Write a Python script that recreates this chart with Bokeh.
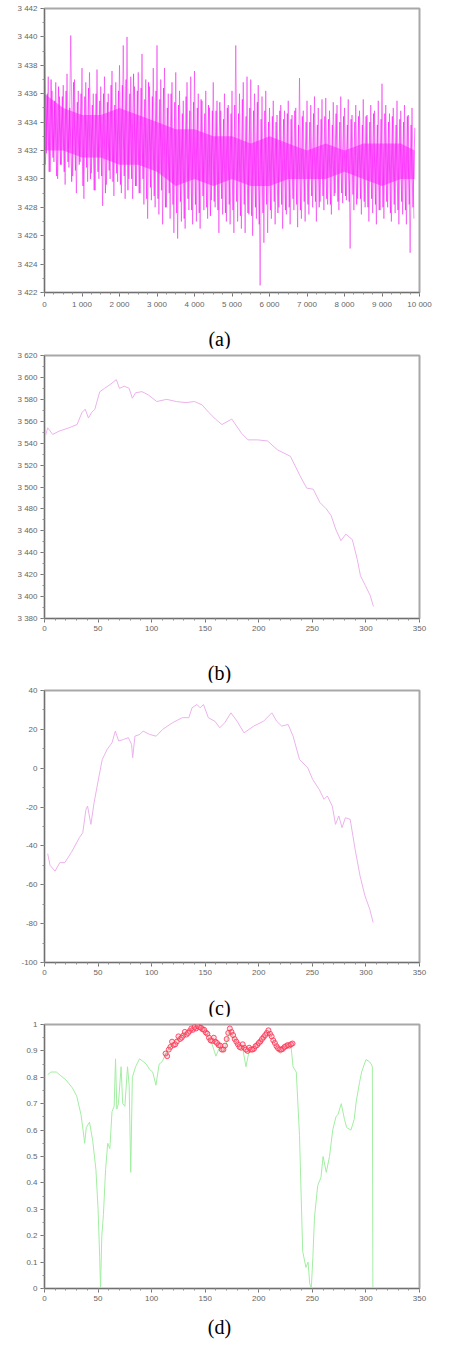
from bokeh.plotting import figure
from bokeh.models import FixedTicker, Div, Range1d
from bokeh.layouts import column
from bokeh.embed import file_html
from bokeh.resources import INLINE

# ---------------- panel (a) : voltage over 10 000 samples (mV) ----------------
a_x = list(range(0, 9900, 50))
a_y = [
    3440.5, 3431.8, 3437.2, 3430.5, 3436.2, 3431.2, 3436.8, 3430.0, 3435.8, 3431.0,
    3436.6, 3429.6, 3437.4, 3430.8, 3440.1, 3430.2, 3437.0, 3429.0, 3436.2, 3431.2,
    3437.8, 3428.6, 3436.8, 3429.8, 3437.5, 3430.4, 3436.0, 3429.2, 3437.7, 3430.0,
    3436.5, 3428.1, 3437.2, 3429.6, 3436.0, 3430.0, 3437.6, 3428.8, 3436.8, 3429.8,
    3438.0, 3429.0, 3439.4, 3428.6, 3440.0, 3430.0, 3437.2, 3428.6, 3436.5, 3429.5,
    3437.5, 3429.0, 3438.8, 3428.2, 3437.0, 3427.2, 3436.5, 3428.5, 3437.8, 3428.0,
    3439.4, 3427.5, 3437.0, 3426.8, 3437.8, 3428.0, 3436.0, 3427.2, 3436.8, 3426.2,
    3437.5, 3425.8, 3436.2, 3427.0, 3435.5, 3426.5, 3436.8, 3427.8, 3437.2, 3426.8,
    3437.6, 3427.0, 3436.0, 3426.5, 3435.5, 3427.8, 3436.2, 3427.2, 3435.0, 3428.5,
    3436.8, 3428.0, 3435.5, 3426.2, 3434.8, 3427.5, 3436.0, 3427.0, 3435.2, 3426.8,
    3436.2, 3426.2, 3439.4, 3427.0, 3436.0, 3426.5, 3436.8, 3426.2, 3437.2, 3427.5,
    3437.0, 3426.0, 3436.0, 3427.2, 3436.6, 3422.5, 3435.8, 3425.5, 3436.2, 3426.2,
    3435.0, 3427.2, 3435.5, 3426.8, 3434.5, 3428.0, 3435.2, 3426.5, 3434.8, 3427.5,
    3435.5, 3426.8, 3434.5, 3427.8, 3435.0, 3426.6, 3437.1, 3427.2, 3434.8, 3427.0,
    3435.5, 3427.5, 3435.2, 3428.0, 3435.8, 3427.0, 3435.0, 3428.4, 3435.6, 3427.8,
    3435.7, 3428.2, 3434.8, 3427.5, 3435.4, 3429.0, 3435.2, 3427.8, 3435.8, 3428.3,
    3435.0, 3428.5, 3435.6, 3425.1, 3434.5, 3427.8, 3435.2, 3428.6, 3434.8, 3427.5,
    3435.6, 3428.0, 3434.5, 3427.0, 3435.2, 3427.6, 3434.8, 3426.8, 3435.5, 3427.8,
    3436.7, 3427.2, 3435.2, 3428.0, 3434.6, 3427.0, 3435.0, 3427.6, 3435.5, 3426.8,
    3434.8, 3427.5, 3435.2, 3426.8, 3434.5, 3424.8, 3435.0, 3427.2,
]
a_x2 = list(range(25, 9900, 50))
a_y2 = [
    3431.0, 3436.0, 3430.5, 3437.0, 3431.5, 3435.5, 3430.2, 3436.5, 3431.0, 3435.8,
    3430.5, 3436.2, 3431.2, 3435.0, 3429.8, 3436.8, 3430.6, 3435.4, 3431.0, 3436.0,
    3429.5, 3435.8, 3430.8, 3436.4, 3430.0, 3435.2, 3429.2, 3436.0, 3430.5, 3435.5,
    3430.2, 3436.0, 3429.0, 3435.4, 3430.6, 3436.6, 3429.8, 3435.2, 3430.4, 3436.2,
    3429.6, 3436.6, 3430.2, 3437.0, 3429.2, 3436.0, 3430.0, 3437.4, 3429.5, 3436.2,
    3429.0, 3436.4, 3430.0, 3435.6, 3428.6, 3436.8, 3429.4, 3435.8, 3428.8, 3436.2,
    3428.6, 3435.6, 3429.2, 3436.4, 3428.0, 3435.0, 3429.0, 3436.0, 3428.2, 3435.4,
    3427.6, 3435.2, 3428.4, 3434.6, 3427.2, 3435.8, 3428.6, 3434.8, 3427.8, 3435.4,
    3428.2, 3435.0, 3427.6, 3435.6, 3428.8, 3434.6, 3428.0, 3435.2, 3427.4, 3434.8,
    3428.4, 3434.8, 3427.8, 3435.4, 3428.6, 3434.2, 3427.6, 3435.0, 3428.2, 3434.6,
    3427.8, 3435.2, 3428.4, 3434.6, 3427.4, 3435.6, 3428.2, 3434.4, 3427.6, 3435.0,
    3427.4, 3434.8, 3428.0, 3435.4, 3426.8, 3434.2, 3427.6, 3434.8, 3428.2, 3434.0,
    3427.8, 3434.4, 3428.4, 3434.0, 3427.6, 3434.8, 3428.2, 3434.2, 3427.8, 3434.6,
    3428.0, 3434.2, 3428.6, 3434.8, 3428.2, 3433.8, 3427.8, 3434.4, 3428.4, 3434.0,
    3428.2, 3434.0, 3428.8, 3434.6, 3428.4, 3433.8, 3428.0, 3434.2, 3428.8, 3434.4,
    3428.6, 3434.2, 3428.2, 3433.8, 3428.8, 3434.6, 3428.4, 3434.0, 3429.0, 3434.4,
    3428.8, 3433.8, 3428.4, 3434.2, 3428.9, 3434.0, 3428.2, 3434.4, 3428.6, 3433.8,
    3428.4, 3434.4, 3428.0, 3434.0, 3428.6, 3434.6, 3428.2, 3433.8, 3427.8, 3434.2,
    3428.0, 3434.6, 3428.4, 3434.0, 3427.6, 3434.4, 3428.2, 3433.8, 3427.8, 3434.2,
    3428.4, 3434.0, 3427.8, 3434.4, 3428.2, 3433.8, 3428.0, 3433.6,
]
a_core_x = [0, 500, 1000, 1500, 2000, 2500, 3000, 3500, 4000, 4500, 5000,
            5500, 6000, 6500, 7000, 7500, 8000, 8500, 9000, 9500, 9870]
a_core_hi = [3436.0, 3435.0, 3434.5, 3434.5, 3435.0, 3434.5, 3434.0, 3433.5, 3433.5, 3433.0, 3433.0,
             3432.5, 3433.0, 3432.5, 3432.0, 3432.5, 3432.0, 3432.5, 3432.5, 3432.5, 3432.0]
a_core_lo = [3432.0, 3432.0, 3431.5, 3431.5, 3431.0, 3431.0, 3430.5, 3429.5, 3430.0, 3429.5, 3430.0,
             3429.5, 3429.5, 3430.0, 3430.0, 3430.0, 3430.5, 3430.0, 3429.5, 3430.0, 3430.0]
a_xticks = [0, 1000, 2000, 3000, 4000, 5000, 6000, 7000, 8000, 9000, 10000]
a_xlabels = ["0", "1 000", "2 000", "3 000", "4 000", "5 000", "6 000", "7 000", "8 000", "9 000", "10 000"]
a_yticks = [3422, 3424, 3426, 3428, 3430, 3432, 3434, 3436, 3438, 3440, 3442]
a_ylabels = ["3 422", "3 424", "3 426", "3 428", "3 430", "3 432", "3 434", "3 436", "3 438", "3 440", "3 442"]

# ---------------- panel (b) ----------------
b_x = [0, 1, 3, 7.6, 13.7, 22.8, 30.4, 35, 38, 41, 44, 47, 51.6, 56, 62, 67, 70, 74.4, 79, 82,
       85, 91, 97, 104.8, 114, 123, 132, 140, 147, 153.4, 159.5, 165.6, 174.8, 183.9, 190, 199,
       208.2, 217.3, 229.5, 238.6, 244.7, 250.8, 256.9, 263, 267.5, 272, 276.7, 281.2, 287.3,
       291.9, 294.9, 299.5, 304, 307]
b_y = [3556, 3547, 3554, 3548, 3551, 3554, 3557, 3568, 3571, 3563, 3568, 3571, 3587, 3590, 3594,
       3598, 3590, 3592, 3590, 3581, 3586, 3587, 3584, 3578, 3580, 3578, 3577, 3578, 3575, 3568,
       3562, 3557, 3562, 3549, 3543, 3543, 3542, 3534, 3528, 3510, 3499, 3498, 3486, 3480, 3474,
       3461, 3451, 3457, 3452, 3434, 3419, 3410, 3401, 3391]
b_yticks = [3380, 3400, 3420, 3440, 3460, 3480, 3500, 3520, 3540, 3560, 3580, 3600, 3620]
b_ylabels = ["3 380", "3 400", "3 420", "3 440", "3 460", "3 480", "3 500", "3 520", "3 540",
             "3 560", "3 580", "3 600", "3 620"]

# ---------------- panel (c) ----------------
c_x = [3, 5.2, 9.8, 14.3, 18.9, 25, 32.6, 35.7, 38.7, 40.2, 43.3, 46.3, 50.9, 53.9, 58.5, 63,
       66.1, 69.2, 73.7, 78.3, 81.3, 82.3, 84.4, 89, 92, 98.1, 104.2, 110.3, 119.4, 128.6, 134.7,
       137.7, 142.3, 145.3, 148.4, 152.9, 159, 163.6, 168.2, 174, 180, 186.2, 195.4, 204.5, 212.2,
       216.7, 221.3, 227.4, 232, 238, 245.7, 250.3, 256.4, 260.9, 264, 268.6, 271.6, 274.7, 277.7,
       280.8, 285.3, 289.9, 294.5, 299.1, 303.6, 306.7]
c_y = [-44, -50, -53, -48.6, -48.6, -43.4, -35.7, -33.2, -21.2, -19.5, -28.9, -17.7, -4, 4.5,
       9.7, 13.1, 19.1, 14, 14.8, 15.7, 12.2, 5.4, 16.5, 17.4, 19.1, 17.4, 16.5, 20, 23.4, 26, 26,
       31.1, 32.8, 31.1, 32.8, 26, 24.2, 20.8, 23.4, 28.5, 24, 18.2, 21.7, 24.2, 28.5, 24.2, 21.7,
       22.5, 16.5, 4.5, 0.2, -5.8, -10.9, -16, -14.3, -19.5, -28.9, -24.6, -30.6, -25.5, -26.3,
       -41.7, -55.4, -65.7, -72.6, -79.4]
c_yticks = [-100, -80, -60, -40, -20, 0, 20, 40]
c_ylabels = ["-100", "-80", "-60", "-40", "-20", "0", "20", "40"]

# ---------------- panel (d) ----------------
d_x = [3, 6, 11, 20, 26, 30, 34, 36, 37.5, 39, 42, 45, 48, 50, 51.5, 52.3, 53.5, 55, 57, 59, 61,
       63, 65, 66.3, 67.5, 69, 71.5, 73, 75, 77.5, 79, 80.5, 82, 85, 88.7, 92, 95, 98, 101, 104,
       107, 110, 113, 120, 130, 140, 150, 156, 160, 163, 168, 173, 180, 185, 188, 191, 200, 210,
       216, 220, 225, 230, 232, 235, 238, 241, 244, 246, 247.5, 249, 250.5, 252, 255, 258, 260,
       263, 266, 269, 272, 274, 277, 280, 282, 286, 289, 291, 294, 296, 300, 303, 305, 306, 306.5]
d_y = [0.81, 0.82, 0.82, 0.79, 0.76, 0.73, 0.66, 0.60, 0.55, 0.61, 0.63, 0.56, 0.45, 0.30, 0.12,
       0.0, 0.20, 0.28, 0.45, 0.55, 0.53, 0.67, 0.69, 0.87, 0.68, 0.70, 0.84, 0.70, 0.69, 0.84,
       0.77, 0.44, 0.80, 0.84, 0.87, 0.86, 0.85, 0.83, 0.82, 0.77, 0.85, 0.86, 0.89, 0.93, 0.965,
       0.99, 0.97, 0.93, 0.88, 0.91, 0.90, 0.98, 0.92, 0.91, 0.84, 0.90, 0.93, 0.97, 0.92, 0.89,
       0.91, 0.92, 0.84, 0.82, 0.58, 0.14, 0.08, 0.10, 0.02, 0.0, 0.12, 0.27, 0.39, 0.42, 0.50,
       0.44, 0.50, 0.60, 0.65, 0.66, 0.70, 0.64, 0.61, 0.60, 0.64, 0.71, 0.78, 0.82, 0.867, 0.86,
       0.85, 0.84, 0.0]
d_rx = [113, 116, 119, 122, 125, 128, 131, 134, 137, 140, 143, 146, 149, 152, 155, 158, 161, 164,
        167, 170, 173, 176, 179, 182, 185, 188, 191, 194, 197, 200, 203, 206, 209, 212, 215, 218,
        221, 224, 227, 230]
d_ry = [0.890, 0.905, 0.935, 0.925, 0.955, 0.950, 0.972, 0.968, 0.985, 0.990, 0.995, 0.988, 0.980,
        0.965, 0.940, 0.950, 0.930, 0.920, 0.905, 0.945, 0.985, 0.960, 0.935, 0.915, 0.925, 0.905,
        0.912, 0.905, 0.918, 0.930, 0.945, 0.960, 0.978, 0.955, 0.930, 0.910, 0.905, 0.915, 0.922,
        0.925]
d_rx2 = [114.5, 117.5, 120.5, 123.5, 126.5, 129.5, 132.5, 135.5, 138.5, 141.5, 144.5, 147.5,
         150.5, 153.5, 156.5, 159.5, 162.5, 165.5, 168.5, 171.5, 174.5, 177.5, 180.5, 183.5,
         186.5, 189.5, 192.5, 195.5, 198.5, 201.5, 204.5, 207.5, 210.5, 213.5, 216.5, 219.5,
         222.5, 225.5, 228.5, 231.5]
d_ry2 = [0.880, 0.915, 0.922, 0.935, 0.945, 0.958, 0.962, 0.975, 0.980, 0.985,
         0.990, 0.982, 0.970, 0.950, 0.938, 0.935, 0.922, 0.905, 0.920, 0.968,
         0.972, 0.945, 0.925, 0.912, 0.912, 0.900, 0.905, 0.908, 0.922, 0.936,
         0.952, 0.968, 0.965, 0.940, 0.918, 0.905, 0.908, 0.918, 0.920, 0.928]
d_yticks = [0, 0.1, 0.2, 0.3, 0.4, 0.5, 0.6, 0.7, 0.8, 0.9, 1]
d_ylabels = ["0", "0.1", "0.2", "0.3", "0.4", "0.5", "0.6", "0.7", "0.8", "0.9", "1"]

xs_ticks = [0, 50, 100, 150, 200, 250, 300, 350]
xs_labels = ["0", "50", "100", "150", "200", "250", "300", "350"]

W = 439


def make_fig(h, xr, yr, bl, br, bt, bb):
    p = figure(width=W, height=h, x_range=Range1d(*xr), y_range=Range1d(*yr),
               output_backend="svg", toolbar_location=None,
               min_border_left=bl, min_border_right=br, min_border_top=bt, min_border_bottom=bb)
    p.grid.visible = False
    p.outline_line_color = "#a8a8a8"
    p.outline_line_width = 2
    p.background_fill_color = "white"
    return p


def style_axes(p, xt, xl, xminor, yt, yl, yminor):
    p.xaxis.ticker = FixedTicker(ticks=xt, minor_ticks=xminor)
    p.yaxis.ticker = FixedTicker(ticks=yt, minor_ticks=yminor)
    p.xaxis.major_label_overrides = {t: l for t, l in zip(xt, xl)}
    p.yaxis.major_label_overrides = {t: l for t, l in zip(yt, yl)}
    for ax in p.axis:
        ax.axis_line_color = "#707070"
        ax.major_tick_line_color = "#707070"
        ax.minor_tick_line_color = "#909090"
        ax.major_tick_out = 4
        ax.major_tick_in = 0
        ax.minor_tick_out = 2
        ax.minor_tick_in = 0
        ax.major_label_text_font = "Liberation Sans"
        ax.major_label_text_font_size = "8px"
        ax.major_label_text_color = "#666666"
        ax.major_label_standoff = 3


def caption(txt, h, pad):
    return Div(text=('<div style="width:%dpx;text-align:center;font-family:\'Liberation Serif\';'
                     'font-size:20px;line-height:20px;padding-top:%dpx;">%s</div>') % (W, pad, txt),
               width=W, height=h, margin=(0, 0, 0, 0))


# (a)
pa = make_fig(314, (0, 10000), (3422, 3442), 35, 4, 8, 22)
pa.varea(x=a_core_x, y1=a_core_lo, y2=a_core_hi, fill_color="#ff00ff", fill_alpha=0.45)
pa.line(a_x2, a_y2, line_color="#ff00ff", line_width=1, line_alpha=0.55)
pa.line(a_x, a_y, line_color="#f020f0", line_width=1, line_alpha=0.5)
style_axes(pa, a_xticks, a_xlabels, list(range(0, 10001, 250)),
           a_yticks, a_ylabels, list(range(3422, 3443, 1)))

# (b)
pb = make_fig(294, (0, 350), (3380, 3620), 44, 10, 7, 24)
pb.line(b_x, b_y, line_color="#ecb2ec", line_width=1)
style_axes(pb, xs_ticks, xs_labels, list(range(0, 351, 10)),
           b_yticks, b_ylabels, list(range(3380, 3621, 10)))

# (c)
pc = make_fig(302, (0, 350), (-100, 40), 41, 15, 8, 22)
pc.line(c_x, c_y, line_color="#ecb2ec", line_width=1)
style_axes(pc, xs_ticks, xs_labels, list(range(0, 351, 10)),
           c_yticks, c_ylabels, list(range(-100, 41, 10)))

# (d)
pd_ = make_fig(292, (0, 350), (0, 1), 44, 20, 8, 20)
pd_.line(d_x, d_y, line_color="#a2eea2", line_width=1)
pd_.scatter(d_rx2, d_ry2, marker="circle", size=5, line_color="#ff3355", line_width=1,
            fill_color="#ff99aa", fill_alpha=0.3, line_alpha=0.85)
pd_.scatter(d_rx, d_ry, marker="circle", size=5, line_color="#ff3355", line_width=1,
            fill_color="#ff99aa", fill_alpha=0.3, line_alpha=0.85)
style_axes(pd_, xs_ticks, xs_labels, list(range(0, 351, 10)),
           d_yticks, d_ylabels, [round(i * 0.05, 2) for i in range(21)])

layout = column(pa, caption("(a)", 34, 15), pb, caption("(b)", 40, 21),
                pc, caption("(c)", 32, 14), pd_, caption("(d)", 22, 9), spacing=0)

open("out.html", "w").write(file_html(layout, INLINE))
